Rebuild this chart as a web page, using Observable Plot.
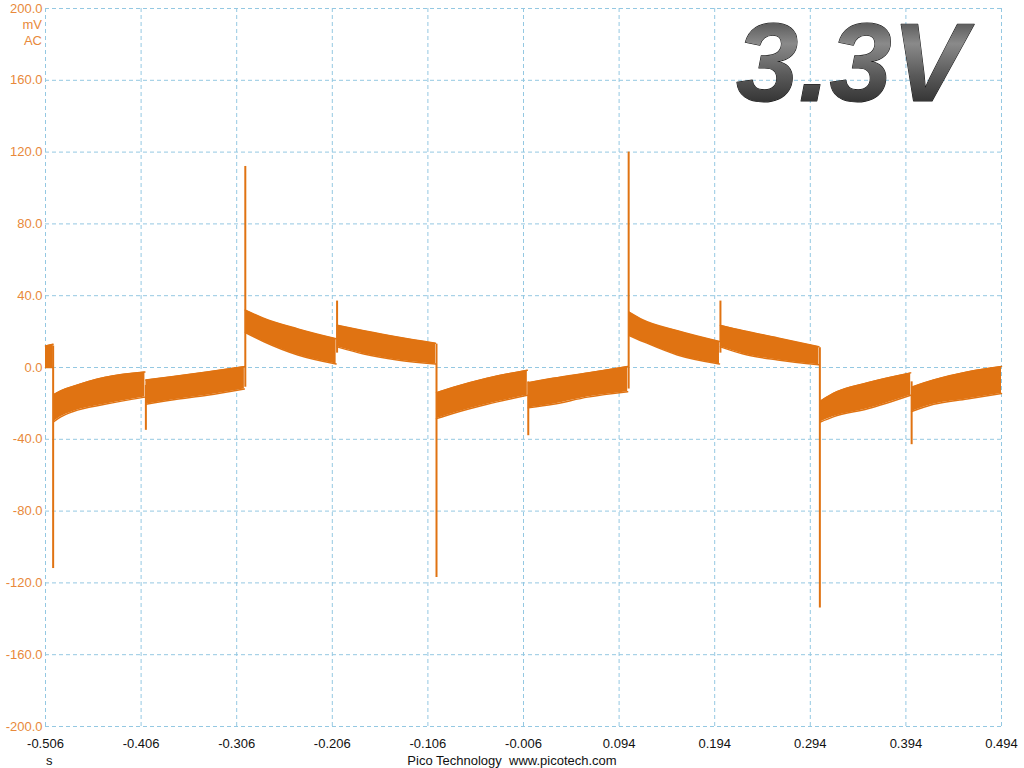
<!DOCTYPE html>
<html><head><meta charset="utf-8">
<script src="https://cdn.jsdelivr.net/npm/d3@7"></script>
<script src="https://cdn.jsdelivr.net/npm/@observablehq/plot@0.6"></script>
<style>
body{margin:0;background:#fff;}
#chart{position:relative;width:1024px;height:768px;font-family:"Liberation Sans",Arial,sans-serif;}
.lbl{position:absolute;font-size:13px;line-height:13px;white-space:nowrap;}
</style></head><body><div id="chart"></div>
<script>
// Axis ticks (s and mV)
const xTicks = [-0.506,-0.406,-0.306,-0.206,-0.106,-0.006,0.094,0.194,0.294,0.394,0.494];
const yTicks = [-200,-160,-120,-80,-40,0,40,80,120,160,200];

// Envelope of the noisy trace (upper / lower edge, mV), per segment
const envSeg = ["A","A", "B","B","B","B","B", "C","C","C","C", "D","D","D","D", "E","E","E","E", "F","F","F","F", "G","G","G","G", "H","H","H","H", "I","I","I","I", "J","J","J","J", "K","K","K","K"];
const envT   = [-0.506,-0.498, -0.497,-0.490,-0.477,-0.444,-0.402, -0.401,-0.372,-0.337,-0.298, -0.297,-0.278,-0.242,-0.202, -0.201,-0.173,-0.138,-0.098, -0.097,-0.079,-0.044,-0.002, -0.001,0.025,0.061,0.103, 0.104,0.119,0.155,0.199, 0.200,0.224,0.260,0.303, 0.304,0.318,0.354,0.399, 0.400,0.423,0.458,0.494];
const envHi  = [12,13, -15,-13,-10.5,-5.5,-2.5, -7,-5,-2.5,0.5, 32,27.5,21.5,16, 23.5,20.5,17,13.5, -14,-11,-6,-1.5, -8.5,-6,-3,0.5, 31,26.5,20.5,14.5, 23.5,20.5,16.5,11.5, -19,-14.5,-8.5,-3, -11,-7,-2.5,0.5];
const envLo  = [0,0, -30,-27.5,-24.5,-20.5,-16.5, -20.5,-18,-15.5,-12, 19.5,14.5,7,2, 11.5,7.5,4.2,2, -28.5,-25.5,-20.5,-15.5, -22.5,-20.5,-16.5,-13.5, 18,14.5,7,2, 11.5,7.5,4.2,1.5, -30.5,-27.5,-23,-15.5, -24.5,-20.5,-17.5,-14.5];

// Switching spikes: time, start level, peak (mV)
const spikeT    = [-0.498,-0.401,-0.297,-0.201,-0.097,-0.001,0.104,0.200,0.304,0.400];
const spikeFrom = [12,-10,-11,8,13,-8,-12,8,11,-8];
const spikeTo   = [-112,-35,112,37,-117,-38,120,37,-134,-43];

const trace = "#E07312";
const yLabelColor = "#E8893A";
const gridColor = "#94C8E2";

const env = envT.map((t,i)=>({seg:envSeg[i], t, hi:envHi[i], lo:envLo[i]}));
const spikes = spikeT.map((t,i)=>({t, from:spikeFrom[i], to:spikeTo[i]}));

const defs = () => {
  const d = document.createElementNS("http://www.w3.org/2000/svg","defs");
  d.innerHTML = `<linearGradient id="g33" x1="0" y1="0" x2="0" y2="1">
    <stop offset="0" stop-color="#2a2a2a"/><stop offset="0.35" stop-color="#8a8a8a"/>
    <stop offset="0.6" stop-color="#5a5a5a"/><stop offset="1" stop-color="#151515"/></linearGradient>
    <filter id="blur3"><feGaussianBlur stdDeviation="2"/></filter>`;
  return d;
};

const plot = Plot.plot({
  width: 1024, height: 768,
  marginLeft: 45, marginRight: 23, marginTop: 8, marginBottom: 42,
  style: {fontFamily: '"Liberation Sans", Arial, sans-serif', fontSize: "13px", background: "#fff"},
  x: {domain: [-0.506, 0.494], label: null},
  y: {domain: [-200, 200], label: null},
  marks: [
    defs,
    Plot.gridX(xTicks, {stroke: gridColor, strokeOpacity: 1, strokeDasharray: "4,3"}),
    Plot.gridY(yTicks, {stroke: gridColor, strokeOpacity: 1, strokeDasharray: "4,3"}),
    Plot.axisX(xTicks, {tickSize: 0, tickPadding: 12, tickFormat: d => d.toFixed(3), fill: "#111", fontSize: 13, label: null}),
    Plot.axisY(yTicks, {tickSize: 0, tickPadding: 3, tickFormat: d => d.toFixed(1), fill: yLabelColor, fontSize: 13, label: null}),
    Plot.areaY(env, {x: "t", y1: "lo", y2: "hi", z: "seg", fill: trace, curve: "monotone-x"}),
    Plot.lineY(env, {x: "t", y: "hi", z: "seg", stroke: trace, strokeWidth: 1.5, curve: "monotone-x"}),
    Plot.lineY(env, {x: "t", y: "lo", z: "seg", stroke: trace, strokeWidth: 1.5, curve: "monotone-x"}),
    Plot.ruleX(spikes, {x: "t", y1: "from", y2: "to", stroke: trace, strokeWidth: 2}),
    Plot.text(["3.3V"], {frameAnchor: "top-right", textAnchor: "end", lineAnchor: "top", dx: -31, dy: 17,
      fontSize: 112, fontWeight: "bold", fontStyle: "italic", fill: "#000", fillOpacity: 0.55, filter: "url(#blur3)"}),
    Plot.text(["3.3V"], {frameAnchor: "top-right", textAnchor: "end", lineAnchor: "top", dx: -35, dy: 13,
      fontSize: 112, fontWeight: "bold", fontStyle: "italic", fill: "url(#g33)", stroke: "#111", strokeWidth: 1})
  ]
});
const chart = document.getElementById("chart");
chart.appendChild(plot);
plot.style.position = "absolute"; plot.style.left = "0"; plot.style.top = "0";
const addLabel = (txt, css) => { const el = document.createElement("div"); el.className = "lbl"; el.textContent = txt; Object.assign(el.style, css); chart.appendChild(el); };
addLabel("mV", {right: (1024-42)+"px", top: "18px", color: yLabelColor});
addLabel("AC", {right: (1024-42)+"px", top: "34px", color: yLabelColor});
addLabel("s", {left: "46px", top: "754px", color: "#111"});
addLabel("Pico Technology  www.picotech.com", {left: "0", width: "1024px", textAlign: "center", top: "754px", color: "#111", whiteSpace: "pre"});
</script></body></html>
